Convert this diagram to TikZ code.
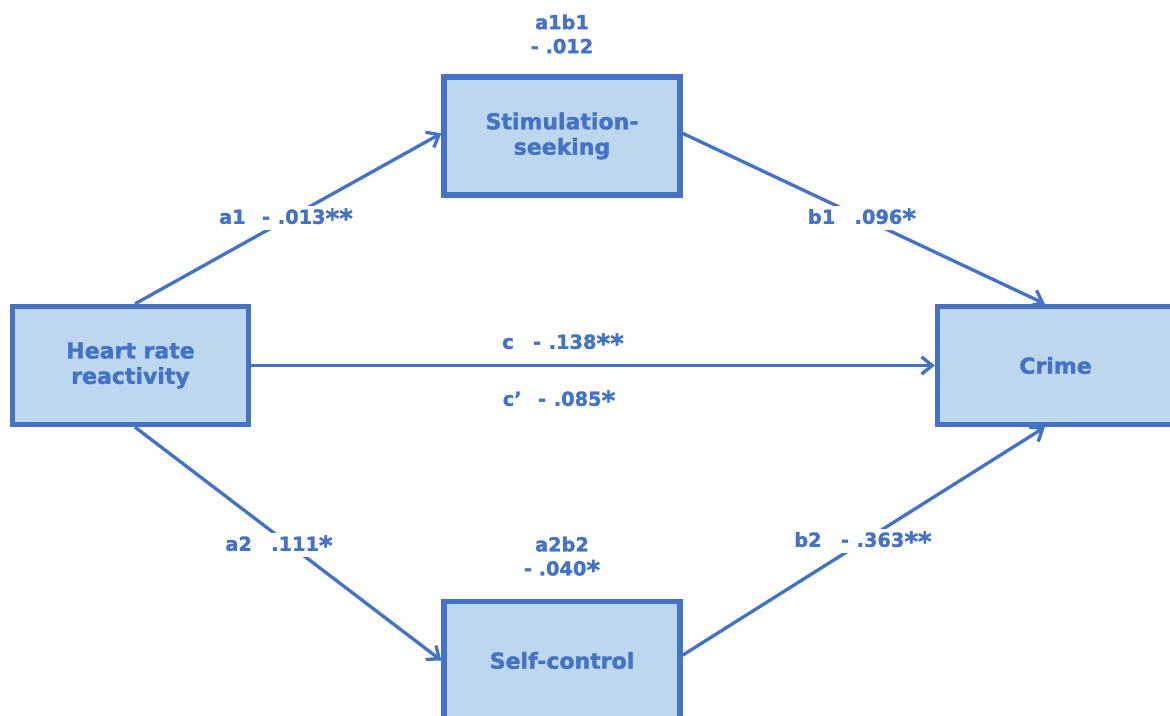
\documentclass[tikz,border=0pt]{standalone}
\usepackage{fontspec}
\usepackage{graphicx}
\setmainfont{DejaVu Sans}[BoldFont={DejaVu Sans Bold},BoldFeatures={FakeBold=1.6}]
\usetikzlibrary{arrows.meta}
\definecolor{pathblue}{HTML}{4472C4}
\definecolor{boxfill}{HTML}{BDD7EE}
% significance stars, set a little larger than the font's own asterisk
\newcommand\sigstars[1]{\raisebox{-0.2em}{\scalebox{1.35}{#1}}}
\begin{document}
\begin{tikzpicture}[x=0.75pt,y=-0.75pt,
  var/.style={draw=pathblue, fill=boxfill, line width=4pt,
    minimum width=177pt, minimum height=88.5pt, inner sep=0pt,
    text=pathblue, align=center,
    font=\fontsize{16.5}{19}\selectfont\bfseries},
  coef/.style={text=pathblue, align=center, inner sep=1.5pt,
    font=\fontsize{14.5}{18}\selectfont\bfseries},
  coefbg/.style={coef, fill=white},
  link/.style={draw=pathblue, line width=2.5pt,
    -{Straight Barb[length=8pt,width=13pt,line join=miter]}}]
\useasboundingbox (0,0) rectangle (1170,716);

% variables
\node[var] (heart) at (130.5,365.5) {Heart rate\\reactivity};
\node[var] (stim)  at (562,136)     {Stimulation-\\seeking};
\node[var] (crime) at (1055.5,365.5) {Crime};
\node[var] (self)  at (562,660.5)   {Self-control};

% paths
\draw[link] ([xshift=3.4pt]heart.north) -- ([yshift=2pt]stim.west);
\draw[link] ([yshift=2pt]stim.east) -- ([xshift=-8pt]crime.north);
\draw[link] (heart.east) -- (crime.west);
\draw[link] ([xshift=3.4pt]heart.south) -- (self.west);
\draw[link] ([yshift=4pt]self.east) -- ([xshift=-8pt]crime.south);

% coefficients
\node[coef]   (ab1) at (562,34)  {a1b1\\- .012};
\node[coefbg] (la1) at (286,218) {a1\hspace{.85em}-\hspace{.4em}.013\sigstars{**}};
\node[coefbg] (lb1) at (862,218) {b1\hspace{1em}.096\sigstars{*}};
\node[coef]   (lc)  at (563,343) {c\hspace{1em}-\hspace{.4em}.138\sigstars{**}};
\node[coef]   (lcp) at (559,400) {c’\hspace{.85em}-\hspace{.4em}.085\sigstars{*}};
\node[coefbg] (la2) at (279,545) {a2\hspace{1em}.111\sigstars{*}};
\node[coef]   (ab2) at (562,558) {a2b2\\- .040\sigstars{*}};
\node[coefbg] (lb2) at (863,541) {b2\hspace{1em}-\hspace{.4em}.363\sigstars{**}};
\end{tikzpicture}
\end{document}
